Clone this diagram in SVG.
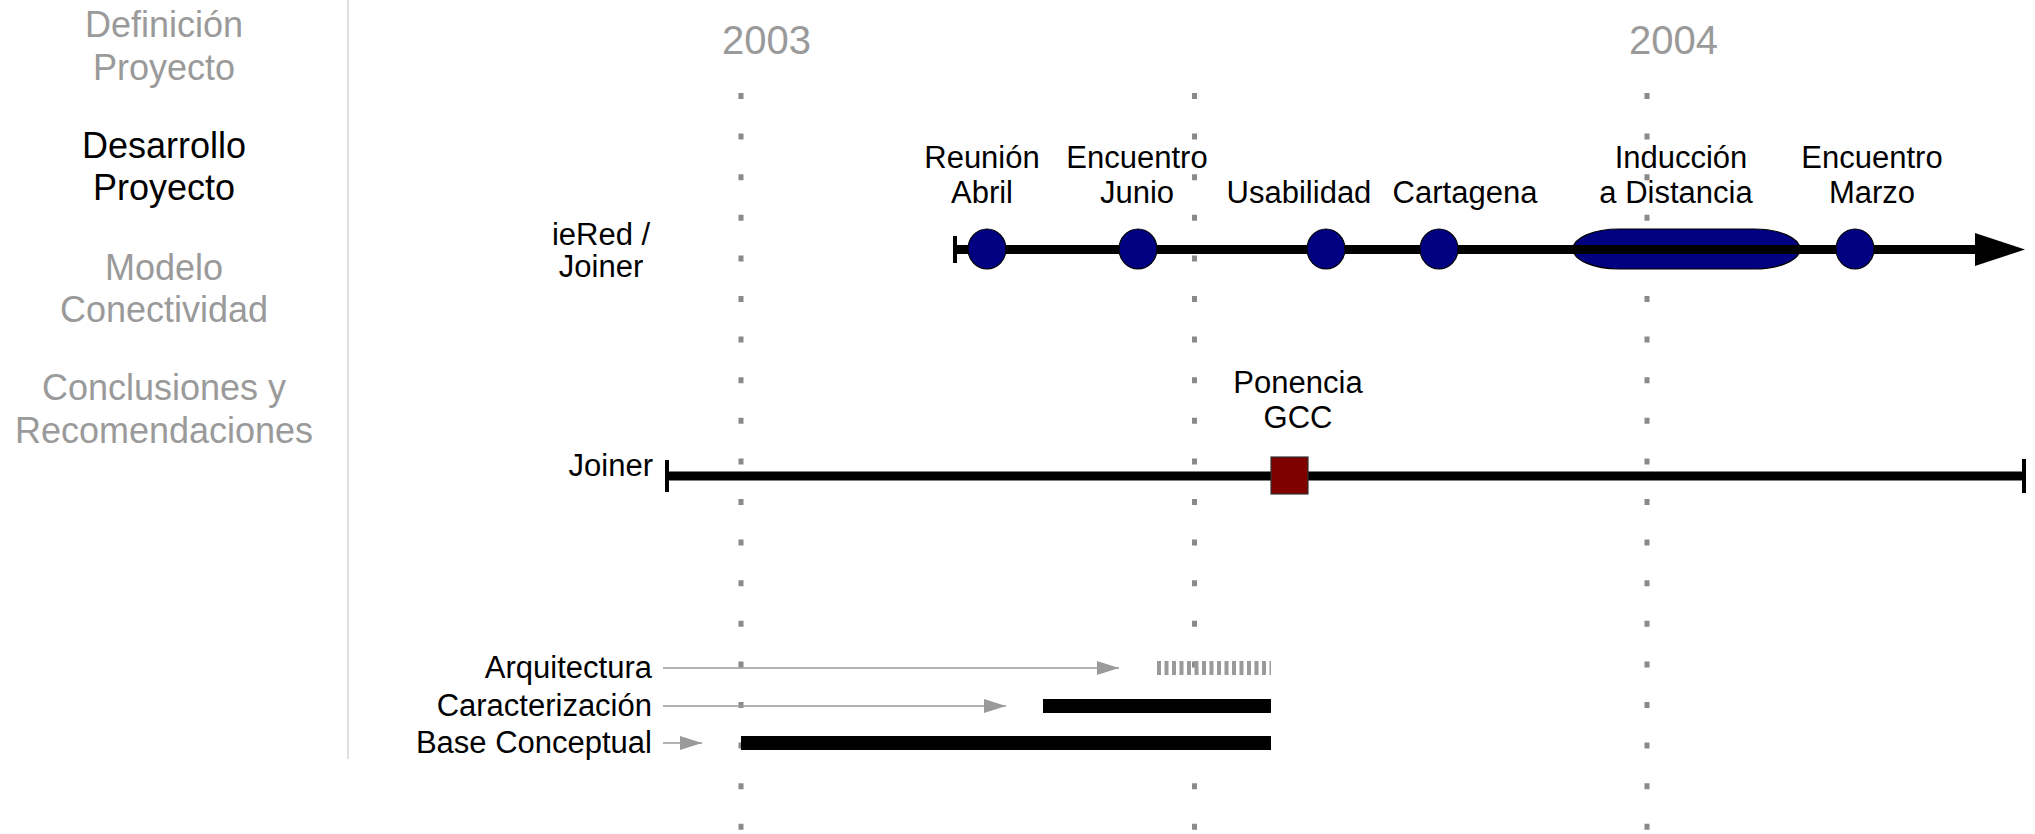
<svg xmlns="http://www.w3.org/2000/svg" width="2035" height="834" viewBox="0 0 2035 834">
<style>
  text { font-family: "Liberation Sans", Arial, sans-serif; }
  .menu { font-size: 36px; fill: #9a9a9a; text-anchor: middle; }
  .menu.active { fill: #000; }
  .year { font-size: 40px; fill: #9a9a9a; }
  .lbl { font-size: 31px; fill: #000; text-anchor: middle; }
  .rlbl { font-size: 31px; fill: #000; text-anchor: end; }
  .grid { stroke: #8a8a8a; stroke-width: 5; stroke-dasharray: 6 34.6; fill: none; }
  .tl { stroke: #000; stroke-width: 9; fill: none; }
  .tick { stroke: #000; stroke-width: 4; }
  .ev { fill: #000080; stroke: #000; stroke-width: 1.2; }
  .thin { stroke: #9a9a9a; stroke-width: 1.5; fill: none; }
  .bar { stroke: #000; stroke-width: 14; }
</style>
<defs>
  <marker id="garrow" viewBox="0 0 22 14" refX="22" refY="7" markerWidth="22" markerHeight="14" markerUnits="userSpaceOnUse" orient="auto">
    <path d="M0,0 L22,7 L0,14 Z" fill="#9a9a9a"/>
  </marker>
</defs>

<rect width="2035" height="834" fill="#fff"/>

<g id="menu">
  <line x1="348" y1="0" x2="348" y2="759" stroke="#e0e0e0" stroke-width="2"/>
  <g id="m-definicion"><text class="menu" x="164" y="37">Definición</text><text class="menu" x="164" y="80">Proyecto</text></g>
  <g id="m-desarrollo"><text class="menu active" x="164" y="158">Desarrollo</text><text class="menu active" x="164" y="200">Proyecto</text></g>
  <g id="m-modelo"><text class="menu" x="164" y="280">Modelo</text><text class="menu" x="164" y="322">Conectividad</text></g>
  <g id="m-conclusiones"><text class="menu" x="164" y="400">Conclusiones y</text><text class="menu" x="164" y="443">Recomendaciones</text></g>
</g>

<g id="grid">
  <line class="grid" x1="741" y1="93" x2="741" y2="834"/>
  <line class="grid" x1="1194.5" y1="93" x2="1194.5" y2="834"/>
  <line class="grid" x1="1647" y1="93" x2="1647" y2="834"/>
  <text class="year" x="722" y="54">2003</text>
  <text class="year" x="1629" y="54">2004</text>
</g>

<g id="connectors">
  <line class="tl" x1="955" y1="249.5" x2="1980" y2="249.5"/>
  <line class="tick" x1="955" y1="236" x2="955" y2="263"/>
  <polygon points="1975,233 2025,249.5 1975,266" fill="#000"/>
  <line class="tl" x1="667" y1="476" x2="2024" y2="476"/>
  <line class="tick" x1="667" y1="460" x2="667" y2="492"/>
  <line class="tick" x1="2024" y1="459" x2="2024" y2="493"/>
  <line class="thin" x1="663" y1="668" x2="1119" y2="668" marker-end="url(#garrow)"/>
  <line class="thin" x1="663" y1="706" x2="1006" y2="706" marker-end="url(#garrow)"/>
  <line class="thin" x1="663" y1="743" x2="702" y2="743" marker-end="url(#garrow)"/>
</g>

<g id="row-iered">
  <text class="lbl" x="601" y="245">ieRed /</text>
  <text class="lbl" x="601" y="277">Joiner</text>
</g>
<g id="ev-reunion">
  <ellipse class="ev" cx="987" cy="249" rx="19" ry="20"/>
  <text class="lbl" x="982" y="168">Reunión</text><text class="lbl" x="982" y="203">Abril</text>
</g>
<g id="ev-junio">
  <ellipse class="ev" cx="1138" cy="249" rx="19" ry="20"/>
  <text class="lbl" x="1137" y="168">Encuentro</text><text class="lbl" x="1137" y="203">Junio</text>
</g>
<g id="ev-usabilidad">
  <ellipse class="ev" cx="1326" cy="249" rx="19" ry="20"/>
  <text class="lbl" x="1299" y="203">Usabilidad</text>
</g>
<g id="ev-cartagena">
  <ellipse class="ev" cx="1439" cy="249" rx="19" ry="20"/>
  <text class="lbl" x="1465" y="203">Cartagena</text>
</g>
<g id="ev-induccion">
  <rect class="ev" x="1573" y="229" width="227" height="40" rx="46" ry="20"/>
  <line class="tl" x1="1573" y1="249.5" x2="1800" y2="249.5"/>
  <text class="lbl" x="1681" y="168">Inducción</text><text class="lbl" x="1676" y="203">a Distancia</text>
</g>
<g id="ev-marzo">
  <ellipse class="ev" cx="1855" cy="249" rx="19" ry="20"/>
  <text class="lbl" x="1872" y="168">Encuentro</text><text class="lbl" x="1872" y="203">Marzo</text>
</g>
<g id="row-joiner">
  <text class="rlbl" x="653" y="476">Joiner</text>
</g>
<g id="ev-ponencia">
  <rect x="1271" y="457" width="37" height="37" fill="#800000" stroke="#333" stroke-width="1.2"/>
  <text class="lbl" x="1298" y="393">Ponencia</text><text class="lbl" x="1298" y="428">GCC</text>
</g>
<g id="task-arquitectura">
  <text class="rlbl" x="652" y="678">Arquitectura</text>
  <line x1="1157" y1="668" x2="1271" y2="668" stroke="#9a9a9a" stroke-width="14" stroke-dasharray="4 3.5"/>
</g>
<g id="task-caracterizacion">
  <text class="rlbl" x="652" y="716">Caracterización</text>
  <line class="bar" x1="1043" y1="706" x2="1271" y2="706"/>
</g>
<g id="task-base">
  <text class="rlbl" x="652" y="753">Base Conceptual</text>
  <line class="bar" x1="741" y1="743" x2="1271" y2="743"/>
</g>
</svg>
